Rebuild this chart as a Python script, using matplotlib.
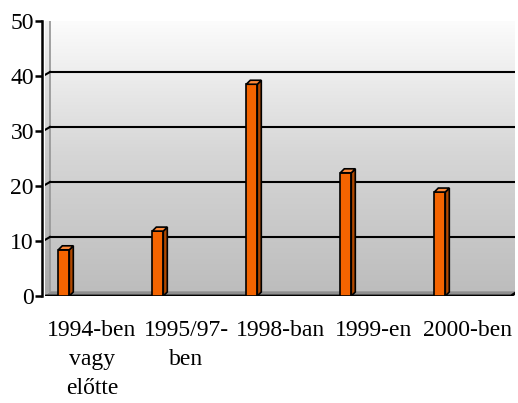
import numpy as np
import matplotlib
matplotlib.use("Agg")
import matplotlib.pyplot as plt
from matplotlib.patches import Polygon, Rectangle
from matplotlib.colors import LinearSegmentedColormap
from matplotlib.transforms import ScaledTranslation

categories = ["1994-ben\nvagy\nelőtte", "1995/97-\nben", "1998-ban", "1999-en", "2000-ben"]
values = [8.4, 11.8, 38.5, 22.4, 18.9]
yticks = [0, 10, 20, 30, 40, 50]

plt.rcParams['font.family'] = ['Liberation Serif', 'DejaVu Serif']

W, H = 518, 403
fig = plt.figure(figsize=(W / 100, H / 100), dpi=100)
ax_l, ax_r, ax_b, ax_t = 45, 515, 296, 21
ax = fig.add_axes([ax_l / W, (H - ax_b) / H, (ax_r - ax_l) / W, (ax_b - ax_t) / H])
ax.set_xlim(0, 5)
ax.set_ylim(0, 50)
ax.patch.set_visible(False)

px = 5 / (ax_r - ax_l)   # data units per pixel (x)
py = 50 / (ax_b - ax_t)  # data units per pixel (y)

# 3D wall offset
ox, oy = 5, 4
off = ScaledTranslation(ox / 100, oy / 100, fig.dpi_scale_trans)
dxo, dyo = ox * px, oy * py
xr = (517 - ax_l - ox) * px  # back wall right edge

cmap = LinearSegmentedColormap.from_list("wall", ["#bdbdbd", "#d6d6d6", "#fdfdfd"])
grad = np.linspace(0, 1, 256).reshape(-1, 1)

# back wall
ax.imshow(grad, extent=(0, xr, 0, 50), origin='lower', aspect='auto', cmap=cmap,
          transform=ax.transData + off, zorder=0, interpolation='bilinear')
ax.add_patch(Rectangle((0, 0), xr, 50, fill=False, edgecolor='#9a9a9a', lw=1.3,
                       transform=ax.transData + off, zorder=1))

# left wall
lx = -2 * px
lw_poly = Polygon([(lx, 0), (lx, 50), (dxo, 50 + dyo), (dxo, dyo)], closed=True,
                  facecolor='none', edgecolor='none')
ax.add_patch(lw_poly)
im = ax.imshow(grad, extent=(lx, dxo, 0, 50 + dyo), origin='lower', aspect='auto',
               cmap=LinearSegmentedColormap.from_list("lw", ["#a8a8a8", "#cacaca", "#f4f4f4"]),
               zorder=0, interpolation='bilinear')
im.set_clip_path(lw_poly)
ax.plot([lx, dxo], [50, 50 + dyo], color='#9a9a9a', lw=1.3, zorder=1)

# floor
ax.add_patch(Polygon([(lx, 0), (xr - dxo * 0.2, 0), (xr + dxo, dyo), (dxo, dyo)], closed=True,
                     facecolor='#8e8e8e', edgecolor='none', zorder=1))

# gridlines on back wall + left wall segment
for v in yticks[1:-1]:
    ax.plot([0, xr], [v, v], color='black', lw=1.5, transform=ax.transData + off, zorder=1.5)
    ax.plot([lx, dxo], [v, v + dyo], color='black', lw=1.5, zorder=1.5)

# front floor edge
ax.plot([lx, xr - dxo * 0.2, xr + dxo], [0, 0, dyo], color='black', lw=2, zorder=2,
        solid_capstyle='butt')

# bars
xpos = np.arange(len(values)) + 0.2
bw = 11 * px
ddx, ddy = 4 * px, 4 * py
ax.bar(xpos, values, width=bw, color='#f46400', edgecolor='black', lw=1.2, zorder=3)
for x, v in zip(xpos, values):
    xr_ = x + bw / 2
    xl_ = x - bw / 2
    ax.add_patch(Polygon([(xr_, 0), (xr_, v), (xr_ + ddx, v + ddy), (xr_ + ddx, ddy)],
                         closed=True, facecolor='#b04800', edgecolor='black', lw=1.2, zorder=3))
    ax.add_patch(Polygon([(xl_, v), (xr_, v), (xr_ + ddx, v + ddy), (xl_ + ddx, v + ddy)],
                         closed=True, facecolor='#ff8a3a', edgecolor='black', lw=1.2, zorder=3))

# axes styling
for s in ['top', 'right', 'bottom']:
    ax.spines[s].set_visible(False)
ax.spines['left'].set_position(('outward', 2))
ax.spines['left'].set_linewidth(1.8)
ax.spines['left'].set_zorder(4)
ax.set_yticks(yticks)
ax.set_yticklabels([str(t) for t in yticks])
ax.tick_params(axis='y', direction='out', length=5, width=1.8, labelsize=17, pad=1)

ax.set_xticks(np.arange(len(categories)) + 0.5)
ax.set_xticklabels(categories)
ax.tick_params(axis='x', length=0, labelsize=17, pad=17)
for lab in ax.get_xticklabels():
    lab.set_linespacing(1.5)

fig.savefig("out.png", dpi=100)
